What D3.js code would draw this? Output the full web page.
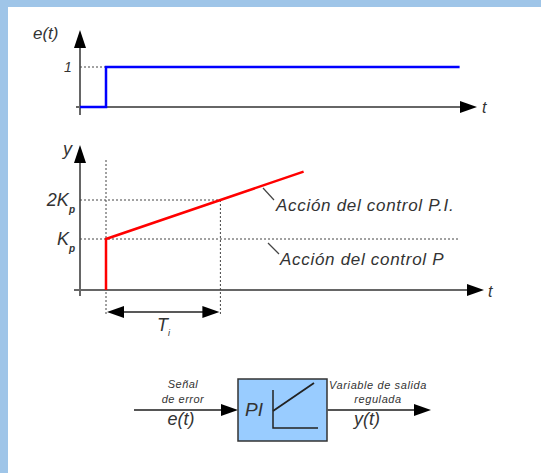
<!DOCTYPE html>
<html>
<head>
<meta charset="utf-8">
<script src="https://cdn.jsdelivr.net/npm/d3@7"></script>
<style>
  html, body { margin: 0; padding: 0; background: #fff; }
  svg { display: block; }
  text { font-family: "Liberation Sans", Arial, sans-serif; font-style: italic; fill: #333; }
</style>
</head>
<body>
<script>
// Step input e(t): time points and levels
const errorTimes = [0, 1, 1, 14.6];
const errorValues = [0, 0, 1, 1];

// PI response y(t), in units of Kp; Ti is the integral time
const stepTime = 1;
const integralTime = 4.4;
const responseTimes = [1, 1, 5.4, 8.6];
const responseValues = [0, 1, 2, 2.727];

// Reference levels and their labels
const levelValues = [1, 2];
const levelLabels = ["K", "2K"];
const annotationLabels = ["Acción del control P.I.", "Acción del control P"];

// Block diagram labels
const inputLabels = ["Señal", "de error"];
const outputLabels = ["Variable de salida", "regulada"];

const W = 541, H = 473;
const svg = d3.select("body").append("svg").attr("width", W).attr("height", H);

// Frame bands on the top and left
svg.append("rect").attr("x", 0).attr("y", 0).attr("width", W).attr("height", 7).attr("fill", "#9fc5e8");
svg.append("rect").attr("x", 0).attr("y", 0).attr("width", 8).attr("height", H).attr("fill", "#9fc5e8");

const axisColor = "#666";
const dotColor = "#444";

function arrowUp(x, yTip) {
  svg.append("path").attr("d", `M${x},${yTip} L${x - 6},${yTip + 18} L${x + 6},${yTip + 18} Z`).attr("fill", "#000");
}
function arrowRight(xTip, y) {
  svg.append("path").attr("d", `M${xTip},${y} L${xTip - 17},${y - 6} L${xTip - 17},${y + 6} Z`).attr("fill", "#000");
}
function arrowLeft(xTip, y) {
  svg.append("path").attr("d", `M${xTip},${y} L${xTip + 17},${y - 6} L${xTip + 17},${y + 6} Z`).attr("fill", "#000");
}

// Shared time scale
const x = d3.scaleLinear().domain([0, 15]).range([80, 470]);

// ---------- Top panel: e(t) ----------
const yE = d3.scaleLinear().domain([0, 1]).range([107, 67]);
const x0 = x(0);

svg.append("line").attr("x1", x0).attr("x2", x0).attr("y1", 40).attr("y2", 115)
  .attr("stroke", axisColor).attr("stroke-width", 2);
arrowUp(x0, 30);
svg.append("line").attr("x1", 76).attr("x2", 462).attr("y1", yE(0)).attr("y2", yE(0))
  .attr("stroke", axisColor).attr("stroke-width", 2);
arrowRight(477, yE(0));

svg.append("line").attr("x1", x0).attr("x2", x(stepTime)).attr("y1", yE(1)).attr("y2", yE(1))
  .attr("stroke", dotColor).attr("stroke-width", 1).attr("stroke-dasharray", "2,2");

const eLine = d3.line().x((d, i) => x(errorTimes[i])).y(d => yE(d));
svg.append("path").datum(errorValues).attr("d", eLine)
  .attr("fill", "none").attr("stroke", "#0000ff").attr("stroke-width", 2.5);

svg.append("text").attr("x", 33).attr("y", 39).attr("font-size", 17).text("e(t)");
svg.append("text").attr("x", 64).attr("y", 72).attr("font-size", 14).text("1");
svg.append("text").attr("x", 482).attr("y", 113).attr("font-size", 16).text("t");

// ---------- Middle panel: y(t) ----------
const yR = d3.scaleLinear().domain([0, 1, 3]).range([290, 239, 161]);

svg.append("line").attr("x1", x0).attr("x2", x0).attr("y1", 155).attr("y2", 296)
  .attr("stroke", axisColor).attr("stroke-width", 2);
arrowUp(x0, 145);
svg.append("line").attr("x1", 74).attr("x2", 468).attr("y1", yR(0)).attr("y2", yR(0))
  .attr("stroke", axisColor).attr("stroke-width", 2);
arrowRight(484, yR(0));

// Guide lines
const tiEnd = stepTime + integralTime;
svg.append("line").attr("x1", x(stepTime)).attr("x2", x(stepTime)).attr("y1", 160).attr("y2", 316)
  .attr("stroke", dotColor).attr("stroke-width", 1).attr("stroke-dasharray", "2,2");
svg.append("line").attr("x1", x(tiEnd)).attr("x2", x(tiEnd)).attr("y1", yR(2)).attr("y2", 316)
  .attr("stroke", dotColor).attr("stroke-width", 1).attr("stroke-dasharray", "2,2");
svg.append("line").attr("x1", x0).attr("x2", 460).attr("y1", yR(1)).attr("y2", yR(1))
  .attr("stroke", dotColor).attr("stroke-width", 1).attr("stroke-dasharray", "2,2");
svg.append("line").attr("x1", x0).attr("x2", x(tiEnd)).attr("y1", yR(2)).attr("y2", yR(2))
  .attr("stroke", dotColor).attr("stroke-width", 1).attr("stroke-dasharray", "2,2");

// Response curve
const rLine = d3.line().x((d, i) => x(responseTimes[i])).y(d => yR(d));
svg.append("path").datum(responseValues).attr("d", rLine)
  .attr("fill", "none").attr("stroke", "#ff0000").attr("stroke-width", 2.5);

// Level labels with subscript p
levelValues.forEach((v, i) => {
  const t = svg.append("text").attr("x", 75).attr("y", yR(v) + 6).attr("font-size", 18)
    .attr("text-anchor", "end");
  t.append("tspan").text(levelLabels[i]);
  t.append("tspan").attr("dy", 7).attr("font-size", 10).attr("font-weight", "bold").text("p");
});
svg.append("text").attr("x", 63).attr("y", 155).attr("font-size", 18).text("y");
svg.append("text").attr("x", 488).attr("y", 297).attr("font-size", 16).text("t");

// Ti dimension arrow
const yTi = 312;
svg.append("line").attr("x1", x(stepTime) + 10).attr("x2", x(tiEnd) - 10).attr("y1", yTi).attr("y2", yTi)
  .attr("stroke", "#222").attr("stroke-width", 1.5);
arrowLeft(x(stepTime) + 1, yTi);
arrowRight(x(tiEnd) - 1, yTi);
const tiText = svg.append("text").attr("x", 157).attr("y", 331).attr("font-size", 18);
tiText.append("tspan").text("T");
tiText.append("tspan").attr("dy", 5).attr("font-size", 9).text("i");

// Annotations with leader lines
const leaders = [[263, 188, 274, 200], [268, 243, 279, 254]];
const annY = [211, 265];
const annX = [276, 280];
annotationLabels.forEach((s, i) => {
  const l = leaders[i];
  svg.append("line").attr("x1", l[0]).attr("y1", l[1]).attr("x2", l[2]).attr("y2", l[3])
    .attr("stroke", "#444").attr("stroke-width", 1.2);
  svg.append("text").attr("x", annX[i]).attr("y", annY[i]).attr("font-size", 17)
    .attr("letter-spacing", 0.7).text(s);
});

// ---------- Block diagram ----------
const yB = 410;
svg.append("line").attr("x1", 134).attr("x2", 224).attr("y1", yB).attr("y2", yB)
  .attr("stroke", "#555").attr("stroke-width", 2);
arrowRight(238, yB);
svg.append("rect").attr("x", 238).attr("y", 379).attr("width", 89).attr("height", 62)
  .attr("fill", "#99ccff").attr("stroke", "#333").attr("stroke-width", 1.5);
svg.append("line").attr("x1", 327).attr("x2", 416).attr("y1", yB).attr("y2", yB)
  .attr("stroke", "#555").attr("stroke-width", 2);
arrowRight(431, yB);

// Mini response sketch inside the block
svg.append("path").attr("d", "M273,390 L273,428 L318,428").attr("fill", "none")
  .attr("stroke", "#222").attr("stroke-width", 1.5);
svg.append("line").attr("x1", 273).attr("y1", 411).attr("x2", 314).attr("y2", 383)
  .attr("stroke", "#222").attr("stroke-width", 1.8);
svg.append("text").attr("x", 245).attr("y", 416).attr("font-size", 19).text("PI");

inputLabels.forEach((s, i) => {
  svg.append("text").attr("x", 183).attr("y", 388 + i * 15).attr("font-size", 11)
    .attr("letter-spacing", 0.5).attr("text-anchor", "middle").text(s);
});
svg.append("text").attr("x", 181).attr("y", 425).attr("font-size", 18).attr("text-anchor", "middle").text("e(t)");
outputLabels.forEach((s, i) => {
  svg.append("text").attr("x", 378).attr("y", 389 + i * 14).attr("font-size", 11)
    .attr("letter-spacing", 0.6).attr("text-anchor", "middle").text(s);
});
svg.append("text").attr("x", 367).attr("y", 425).attr("font-size", 18).attr("text-anchor", "middle").text("y(t)");
</script>
</body>
</html>
